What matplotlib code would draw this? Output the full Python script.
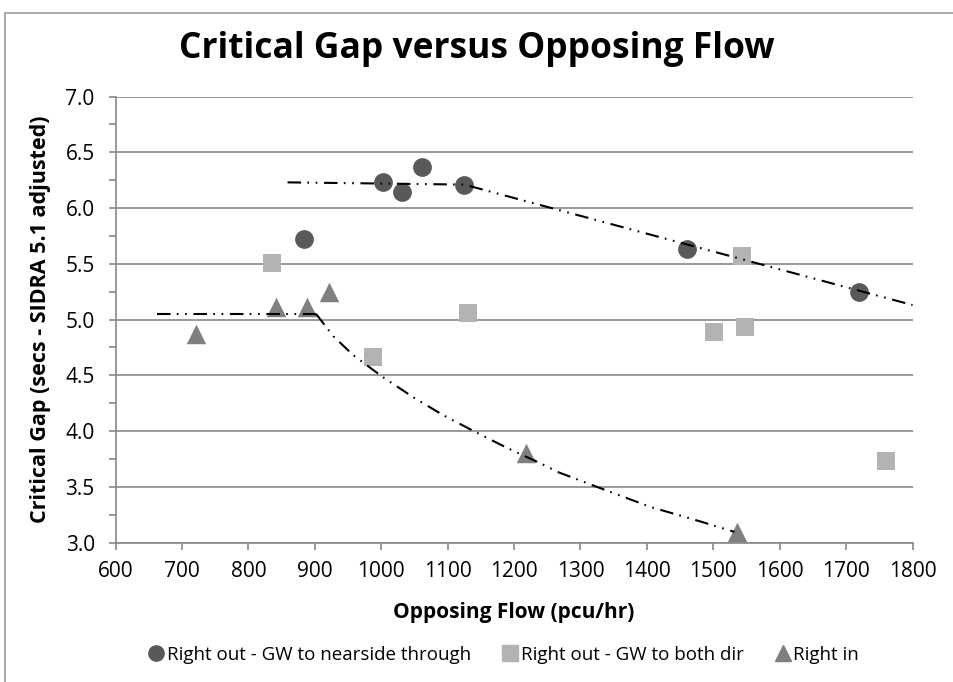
import matplotlib.pyplot as plt
from matplotlib.lines import Line2D
from matplotlib.patches import Rectangle

circle_x = [884, 1003, 1031, 1061, 1125, 1461, 1719]
circle_y = [5.72, 6.23, 6.14, 6.37, 6.21, 5.63, 5.25]
square_x = [835, 988, 1131, 1501, 1544, 1548, 1760]
square_y = [5.51, 4.66, 5.06, 4.89, 5.57, 4.93, 3.73]
triangle_x = [721, 842, 888, 921, 1218, 1535]
triangle_y = [4.87, 5.11, 5.11, 5.25, 3.80, 3.09]

# trend lines (hand-read)
trend_a_x = [859, 1125, 1800]
trend_a_y = [6.23, 6.21, 5.13]
trend_b_x = [663, 902]
trend_b_y = [5.05, 5.05]
trend_c_x = [902, 928, 958, 1001, 1049, 1094, 1139, 1189, 1240, 1267, 1320, 1405, 1480, 1532]
trend_c_y = [5.05, 4.85, 4.68, 4.49, 4.30, 4.14, 4.00, 3.85, 3.71, 3.63, 3.51, 3.32, 3.19, 3.095]

labels = ["Right out - GW to nearside through", "Right out - GW to both dir", "Right in"]
colors = ["#595959", "#b3b3b3", "#7f7f7f"]
xticks = list(range(600, 1801, 100))
yticks = [3.0, 3.5, 4.0, 4.5, 5.0, 5.5, 6.0, 6.5, 7.0]

plt.rcParams["font.family"] = ["Open Sans", "DejaVu Sans"]
grid_col = "#888888"

fig = plt.figure(figsize=(9.54, 6.82), dpi=100)
fig.patches.append(Rectangle((5 / 954, -0.1), 1.2, 1 - 13 / 682 + 0.1, transform=fig.transFigure,
                             fill=False, edgecolor="#999999", lw=1.2))
ax = fig.add_axes([0.1211, 0.2045, 0.8354, 0.654])

ax.scatter(circle_x, circle_y, s=13.5 ** 2, marker="o", color=colors[0], linewidths=0, zorder=3)
ax.scatter(square_x, square_y, s=13.5 ** 2, marker="s", color=colors[1], linewidths=0, zorder=3)
ax.scatter(triangle_x, triangle_y, s=14 ** 2, marker="^", color=colors[2], linewidths=0, zorder=3)

ls = (0, (6.5, 3, 0.8, 3.2, 0.8, 3.2))
for tx, ty in [(trend_a_x, trend_a_y), (trend_b_x, trend_b_y), (trend_c_x, trend_c_y)]:
    ax.plot(tx, ty, color="black", lw=1.5, linestyle=ls, zorder=4)

ax.set_xlim(600, 1800)
ax.set_ylim(3.0, 7.0)
ax.set_xticks(xticks)
ax.set_yticks(yticks)
ax.set_yticklabels([f"{v:.1f}" for v in yticks])
ax.set_yticks([3.25 + 0.5 * i for i in range(8)], minor=True)
ax.tick_params(axis="both", which="both", direction="out", length=5, width=1.2,
               color=grid_col, labelsize=15, labelcolor="black")
ax.tick_params(axis="x", pad=8)
ax.tick_params(axis="y", pad=10)
ax.grid(axis="y", which="major", color=grid_col, lw=1.2)
ax.set_axisbelow(True)
for s in ["top", "right"]:
    ax.spines[s].set_visible(False)
for s in ["left", "bottom"]:
    ax.spines[s].set_color(grid_col)
    ax.spines[s].set_linewidth(1.2)

fig.text(0.5, 1 - 49 / 682, "Critical Gap versus Opposing Flow", ha="center", va="center",
         fontsize=25.5, fontweight="bold")
ax.set_xlabel("Opposing Flow (pcu/hr)", fontsize=15, fontweight="bold", labelpad=15)
ax.set_ylabel("Critical Gap (secs - SIDRA 5.1 adjusted)", fontsize=15.5, fontweight="bold", labelpad=10)

handles = [
    Line2D([], [], marker="o", color=colors[0], linestyle="none", markersize=11),
    Line2D([], [], marker="s", color=colors[1], linestyle="none", markersize=11),
    Line2D([], [], marker="^", color=colors[2], linestyle="none", markersize=11),
]
fig.legend(handles, labels, loc="center", bbox_to_anchor=(503 / 954, 1 - 655 / 682), ncol=3,
           frameon=False, fontsize=13.5, handletextpad=0.05, columnspacing=1.6, handlelength=1.0)

fig.savefig("out.png", dpi=100)
